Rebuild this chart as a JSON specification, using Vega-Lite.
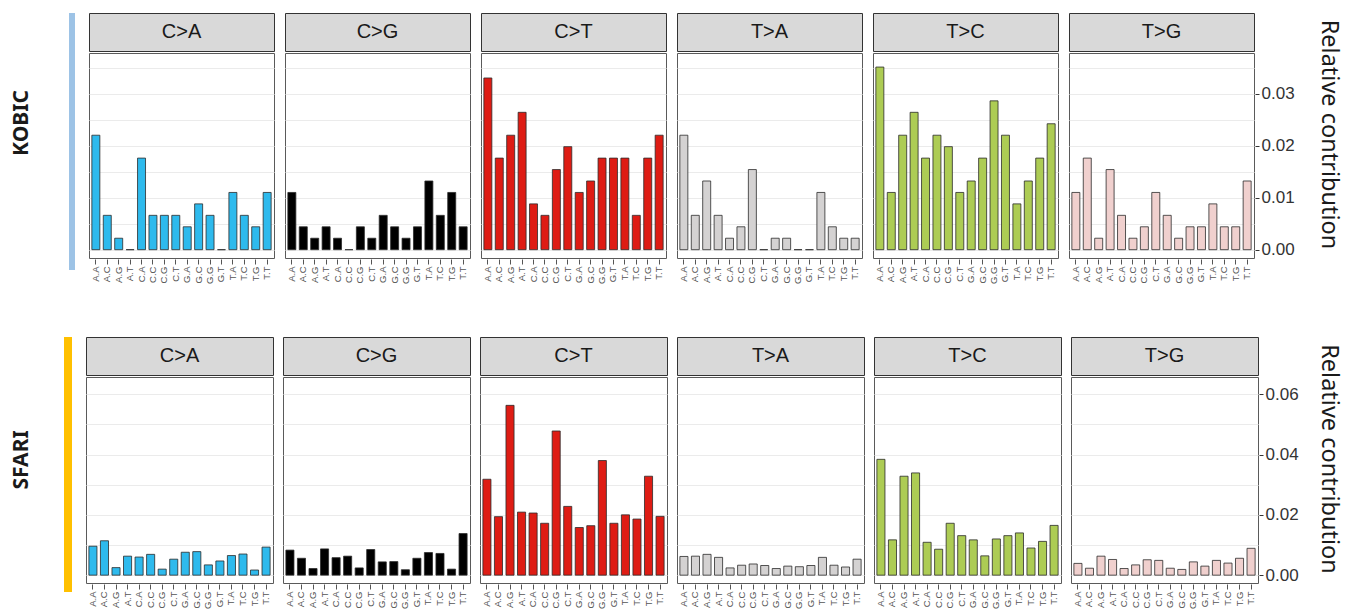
{
"$schema": "https://vega.github.io/schema/vega-lite/v6.json",
"padding": {"left": 0, "top": 12, "right": 0, "bottom": 0},
"background": "white",
"config": {"view": {"stroke": null}, "font": "Liberation Sans"},
"datasets": {
"kobic": [
{"type":"C>A","ctx":"A.A","v":0.022},{"type":"C>A","ctx":"A.C","v":0.0066},{"type":"C>A","ctx":"A.G","v":0.0022},{"type":"C>A","ctx":"A.T","v":0},{"type":"C>A","ctx":"C.A","v":0.0176},{"type":"C>A","ctx":"C.C","v":0.0066},{"type":"C>A","ctx":"C.G","v":0.0066},{"type":"C>A","ctx":"C.T","v":0.0066},{"type":"C>A","ctx":"G.A","v":0.0044},{"type":"C>A","ctx":"G.C","v":0.0088},{"type":"C>A","ctx":"G.G","v":0.0066},{"type":"C>A","ctx":"G.T","v":0},{"type":"C>A","ctx":"T.A","v":0.011},{"type":"C>A","ctx":"T.C","v":0.0066},{"type":"C>A","ctx":"T.G","v":0.0044},{"type":"C>A","ctx":"T.T","v":0.011},
{"type":"C>G","ctx":"A.A","v":0.011},{"type":"C>G","ctx":"A.C","v":0.0044},{"type":"C>G","ctx":"A.G","v":0.0022},{"type":"C>G","ctx":"A.T","v":0.0044},{"type":"C>G","ctx":"C.A","v":0.0022},{"type":"C>G","ctx":"C.C","v":0},{"type":"C>G","ctx":"C.G","v":0.0044},{"type":"C>G","ctx":"C.T","v":0.0022},{"type":"C>G","ctx":"G.A","v":0.0066},{"type":"C>G","ctx":"G.C","v":0.0044},{"type":"C>G","ctx":"G.G","v":0.0022},{"type":"C>G","ctx":"G.T","v":0.0044},{"type":"C>G","ctx":"T.A","v":0.0132},{"type":"C>G","ctx":"T.C","v":0.0066},{"type":"C>G","ctx":"T.G","v":0.011},{"type":"C>G","ctx":"T.T","v":0.0044},
{"type":"C>T","ctx":"A.A","v":0.033},{"type":"C>T","ctx":"A.C","v":0.0176},{"type":"C>T","ctx":"A.G","v":0.022},{"type":"C>T","ctx":"A.T","v":0.0264},{"type":"C>T","ctx":"C.A","v":0.0088},{"type":"C>T","ctx":"C.C","v":0.0066},{"type":"C>T","ctx":"C.G","v":0.0154},{"type":"C>T","ctx":"C.T","v":0.0198},{"type":"C>T","ctx":"G.A","v":0.011},{"type":"C>T","ctx":"G.C","v":0.0132},{"type":"C>T","ctx":"G.G","v":0.0176},{"type":"C>T","ctx":"G.T","v":0.0176},{"type":"C>T","ctx":"T.A","v":0.0176},{"type":"C>T","ctx":"T.C","v":0.0066},{"type":"C>T","ctx":"T.G","v":0.0176},{"type":"C>T","ctx":"T.T","v":0.022},
{"type":"T>A","ctx":"A.A","v":0.022},{"type":"T>A","ctx":"A.C","v":0.0066},{"type":"T>A","ctx":"A.G","v":0.0132},{"type":"T>A","ctx":"A.T","v":0.0066},{"type":"T>A","ctx":"C.A","v":0.0022},{"type":"T>A","ctx":"C.C","v":0.0044},{"type":"T>A","ctx":"C.G","v":0.0154},{"type":"T>A","ctx":"C.T","v":0},{"type":"T>A","ctx":"G.A","v":0.0022},{"type":"T>A","ctx":"G.C","v":0.0022},{"type":"T>A","ctx":"G.G","v":0},{"type":"T>A","ctx":"G.T","v":0},{"type":"T>A","ctx":"T.A","v":0.011},{"type":"T>A","ctx":"T.C","v":0.0044},{"type":"T>A","ctx":"T.G","v":0.0022},{"type":"T>A","ctx":"T.T","v":0.0022},
{"type":"T>C","ctx":"A.A","v":0.0351},{"type":"T>C","ctx":"A.C","v":0.011},{"type":"T>C","ctx":"A.G","v":0.022},{"type":"T>C","ctx":"A.T","v":0.0264},{"type":"T>C","ctx":"C.A","v":0.0176},{"type":"T>C","ctx":"C.C","v":0.022},{"type":"T>C","ctx":"C.G","v":0.0198},{"type":"T>C","ctx":"C.T","v":0.011},{"type":"T>C","ctx":"G.A","v":0.0132},{"type":"T>C","ctx":"G.C","v":0.0176},{"type":"T>C","ctx":"G.G","v":0.0286},{"type":"T>C","ctx":"G.T","v":0.022},{"type":"T>C","ctx":"T.A","v":0.0088},{"type":"T>C","ctx":"T.C","v":0.0132},{"type":"T>C","ctx":"T.G","v":0.0176},{"type":"T>C","ctx":"T.T","v":0.0242},
{"type":"T>G","ctx":"A.A","v":0.011},{"type":"T>G","ctx":"A.C","v":0.0176},{"type":"T>G","ctx":"A.G","v":0.0022},{"type":"T>G","ctx":"A.T","v":0.0154},{"type":"T>G","ctx":"C.A","v":0.0066},{"type":"T>G","ctx":"C.C","v":0.0022},{"type":"T>G","ctx":"C.G","v":0.0044},{"type":"T>G","ctx":"C.T","v":0.011},{"type":"T>G","ctx":"G.A","v":0.0066},{"type":"T>G","ctx":"G.C","v":0.0022},{"type":"T>G","ctx":"G.G","v":0.0044},{"type":"T>G","ctx":"G.T","v":0.0044},{"type":"T>G","ctx":"T.A","v":0.0088},{"type":"T>G","ctx":"T.C","v":0.0044},{"type":"T>G","ctx":"T.G","v":0.0044},{"type":"T>G","ctx":"T.T","v":0.0132}
],
"sfari": [
{"type":"C>A","ctx":"A.A","v":0.0096},{"type":"C>A","ctx":"A.C","v":0.0114},{"type":"C>A","ctx":"A.G","v":0.0025},{"type":"C>A","ctx":"A.T","v":0.0063},{"type":"C>A","ctx":"C.A","v":0.006},{"type":"C>A","ctx":"C.C","v":0.0069},{"type":"C>A","ctx":"C.G","v":0.002},{"type":"C>A","ctx":"C.T","v":0.0053},{"type":"C>A","ctx":"G.A","v":0.0076},{"type":"C>A","ctx":"G.C","v":0.0078},{"type":"C>A","ctx":"G.G","v":0.0034},{"type":"C>A","ctx":"G.T","v":0.0047},{"type":"C>A","ctx":"T.A","v":0.0065},{"type":"C>A","ctx":"T.C","v":0.007},{"type":"C>A","ctx":"T.G","v":0.0017},{"type":"C>A","ctx":"T.T","v":0.0093},
{"type":"C>G","ctx":"A.A","v":0.0083},{"type":"C>G","ctx":"A.C","v":0.0056},{"type":"C>G","ctx":"A.G","v":0.0022},{"type":"C>G","ctx":"A.T","v":0.0087},{"type":"C>G","ctx":"C.A","v":0.0058},{"type":"C>G","ctx":"C.C","v":0.0063},{"type":"C>G","ctx":"C.G","v":0.0024},{"type":"C>G","ctx":"C.T","v":0.0085},{"type":"C>G","ctx":"G.A","v":0.0044},{"type":"C>G","ctx":"G.C","v":0.0045},{"type":"C>G","ctx":"G.G","v":0.0018},{"type":"C>G","ctx":"G.T","v":0.0056},{"type":"C>G","ctx":"T.A","v":0.0075},{"type":"C>G","ctx":"T.C","v":0.0072},{"type":"C>G","ctx":"T.G","v":0.002},{"type":"C>G","ctx":"T.T","v":0.0138},
{"type":"C>T","ctx":"A.A","v":0.0318},{"type":"C>T","ctx":"A.C","v":0.0194},{"type":"C>T","ctx":"A.G","v":0.0563},{"type":"C>T","ctx":"A.T","v":0.0209},{"type":"C>T","ctx":"C.A","v":0.0206},{"type":"C>T","ctx":"C.C","v":0.0172},{"type":"C>T","ctx":"C.G","v":0.0478},{"type":"C>T","ctx":"C.T","v":0.0228},{"type":"C>T","ctx":"G.A","v":0.0158},{"type":"C>T","ctx":"G.C","v":0.0164},{"type":"C>T","ctx":"G.G","v":0.038},{"type":"C>T","ctx":"G.T","v":0.0172},{"type":"C>T","ctx":"T.A","v":0.02},{"type":"C>T","ctx":"T.C","v":0.0186},{"type":"C>T","ctx":"T.G","v":0.0328},{"type":"C>T","ctx":"T.T","v":0.0195},
{"type":"T>A","ctx":"A.A","v":0.0062},{"type":"T>A","ctx":"A.C","v":0.0063},{"type":"T>A","ctx":"A.G","v":0.0069},{"type":"T>A","ctx":"A.T","v":0.0059},{"type":"T>A","ctx":"C.A","v":0.0024},{"type":"T>A","ctx":"C.C","v":0.0033},{"type":"T>A","ctx":"C.G","v":0.0037},{"type":"T>A","ctx":"C.T","v":0.0032},{"type":"T>A","ctx":"G.A","v":0.0022},{"type":"T>A","ctx":"G.C","v":0.003},{"type":"T>A","ctx":"G.G","v":0.0028},{"type":"T>A","ctx":"G.T","v":0.0032},{"type":"T>A","ctx":"T.A","v":0.0059},{"type":"T>A","ctx":"T.C","v":0.0033},{"type":"T>A","ctx":"T.G","v":0.0027},{"type":"T>A","ctx":"T.T","v":0.0053},
{"type":"T>C","ctx":"A.A","v":0.0384},{"type":"T>C","ctx":"A.C","v":0.0117},{"type":"T>C","ctx":"A.G","v":0.0328},{"type":"T>C","ctx":"A.T","v":0.0339},{"type":"T>C","ctx":"C.A","v":0.0109},{"type":"T>C","ctx":"C.C","v":0.0086},{"type":"T>C","ctx":"C.G","v":0.0172},{"type":"T>C","ctx":"C.T","v":0.0131},{"type":"T>C","ctx":"G.A","v":0.0117},{"type":"T>C","ctx":"G.C","v":0.0064},{"type":"T>C","ctx":"G.G","v":0.012},{"type":"T>C","ctx":"G.T","v":0.0131},{"type":"T>C","ctx":"T.A","v":0.014},{"type":"T>C","ctx":"T.C","v":0.009},{"type":"T>C","ctx":"T.G","v":0.0112},{"type":"T>C","ctx":"T.T","v":0.0165},
{"type":"T>G","ctx":"A.A","v":0.0039},{"type":"T>G","ctx":"A.C","v":0.0023},{"type":"T>G","ctx":"A.G","v":0.0063},{"type":"T>G","ctx":"A.T","v":0.0052},{"type":"T>G","ctx":"C.A","v":0.0022},{"type":"T>G","ctx":"C.C","v":0.0034},{"type":"T>G","ctx":"C.G","v":0.0051},{"type":"T>G","ctx":"C.T","v":0.0049},{"type":"T>G","ctx":"G.A","v":0.0023},{"type":"T>G","ctx":"G.C","v":0.0019},{"type":"T>G","ctx":"G.G","v":0.0044},{"type":"T>G","ctx":"G.T","v":0.003},{"type":"T>G","ctx":"T.A","v":0.0049},{"type":"T>G","ctx":"T.C","v":0.004},{"type":"T>G","ctx":"T.G","v":0.0056},{"type":"T>G","ctx":"T.T","v":0.0089}
]
},
"spacing": 52,
"vconcat": [
{
"spacing": 13,
"hconcat": [
 {"spacing": 25, "hconcat": [
  {"data": {"values": [{"label": "KOBIC"}]}, "width": 44, "height": 220,
   "mark": {"type": "text", "angle": 270, "fontSize": 21, "fontWeight": "bold", "font": "Noto Sans", "color": "#1a1a1a", "baseline": "middle", "align": "center"},
   "encoding": {"text": {"field": "label"}}},
  {"data": {"values": [{"label": "KOBIC"}]}, "width": 6, "height": 257,
   "view": {"fill": "#9DC3E6", "stroke": null},
   "mark": {"type": "text", "opacity": 0, "fontSize": 1},
   "encoding": {"text": {"field": "label"}}}
 ]},
 {"spacing": 0, "vconcat": [
  {"data": {"name": "kobic"},
   "transform": [{"aggregate": [{"op": "count", "as": "n"}], "groupby": ["type"]}],
   "facet": {"column": {"field": "type", "header": null}},
   "spacing": 9,
   "spec": {"width": 185, "height": 38, "view": {"fill": "#D9D9D9", "stroke": "#333333"},
    "mark": {"type": "text", "fontSize": 20, "color": "#1a1a1a", "baseline": "middle"},
    "encoding": {"text": {"field": "type"}}}},
  {"data": {"name": "kobic"},
   "facet": {"column": {"field": "type", "header": null}},
   "spacing": 9,
   "spec": {"width": 185, "height": 205, "view": {"stroke": "#5a5a5a"},
    "mark": {"type": "bar", "stroke": "#2b2b2b", "strokeWidth": 0.8},
    "encoding": {
     "x": {"field": "ctx", "type": "nominal", "scale": {"paddingInner": 0.3, "paddingOuter": 0.25},
       "axis": {"title": null, "labelAngle": -90, "labelFontSize": 9.5, "labelColor": "#555555", "tickColor": "#555555", "tickSize": 5, "domain": false, "grid": false, "labelPadding": 2}},
     "y": {"field": "v", "type": "quantitative", "scale": {"domain": [-0.0016, 0.0378], "nice": false},
       "axis": {"orient": "right", "values": [0, 0.005, 0.01, 0.015, 0.02, 0.025, 0.03, 0.035],
        "labelExpr": "round(datum.value*1000) % 10 == 0 ? format(datum.value, '.2f') : ''",
        "tickOpacity": {"condition": {"test": "round(datum.value*1000) % 10 == 0", "value": 1}, "value": 0},
        "labelFontSize": 17, "labelColor": "#333333", "tickColor": "#333333", "tickSize": 4, "labelPadding": 2, "domain": false,
        "gridColor": "#EBEBEB", "gridWidth": 1.2, "title": null}},
     "color": {"field": "type", "type": "nominal", "legend": null,
       "scale": {"domain": ["C>A", "C>G", "C>T", "T>A", "T>C", "T>G"], "range": ["#2EBAED", "#000000", "#DE1C14", "#D4D2D2", "#ADCC54", "#F0D0CE"]}}
    }}}
 ]},
 {"data": {"values": [{"label": "Relative contribution"}]}, "width": 42, "height": 243,
  "mark": {"type": "text", "angle": 90, "fontSize": 23.5, "font": "Noto Sans", "color": "#1a1a1a", "baseline": "middle", "align": "center"},
  "encoding": {"text": {"field": "label"}}}
]
},
{
"spacing": 13,
"hconcat": [
 {"spacing": 20, "hconcat": [
  {"data": {"values": [{"label": "SFARI"}]}, "width": 44, "height": 246,
   "mark": {"type": "text", "angle": 270, "fontSize": 21, "fontWeight": "bold", "font": "Noto Sans", "color": "#1a1a1a", "baseline": "middle", "align": "center"},
   "encoding": {"text": {"field": "label"}}},
  {"data": {"values": [{"label": "SFARI"}]}, "width": 8, "height": 255,
   "view": {"fill": "#FFC000", "stroke": null},
   "mark": {"type": "text", "opacity": 0, "fontSize": 1},
   "encoding": {"text": {"field": "label"}}}
 ]},
 {"spacing": 0, "vconcat": [
  {"data": {"name": "sfari"},
   "transform": [{"aggregate": [{"op": "count", "as": "n"}], "groupby": ["type"]}],
   "facet": {"column": {"field": "type", "header": null}},
   "spacing": 8,
   "spec": {"width": 187, "height": 38, "view": {"fill": "#D9D9D9", "stroke": "#333333"},
    "mark": {"type": "text", "fontSize": 20, "color": "#1a1a1a", "baseline": "middle"},
    "encoding": {"text": {"field": "type"}}}},
  {"data": {"name": "sfari"},
   "facet": {"column": {"field": "type", "header": null}},
   "spacing": 8,
   "spec": {"width": 187, "height": 206, "view": {"stroke": "#5a5a5a"},
    "mark": {"type": "bar", "stroke": "#2b2b2b", "strokeWidth": 0.8},
    "encoding": {
     "x": {"field": "ctx", "type": "nominal", "scale": {"paddingInner": 0.3, "paddingOuter": 0.25},
       "axis": {"title": null, "labelAngle": -90, "labelFontSize": 9.5, "labelColor": "#555555", "tickColor": "#555555", "tickSize": 5, "domain": false, "grid": false, "labelPadding": 2}},
     "y": {"field": "v", "type": "quantitative", "scale": {"domain": [-0.0026, 0.0657], "nice": false},
       "axis": {"orient": "right", "values": [0, 0.01, 0.02, 0.03, 0.04, 0.05, 0.06],
        "labelExpr": "round(datum.value*100) % 2 == 0 ? format(datum.value, '.2f') : ''",
        "tickOpacity": {"condition": {"test": "round(datum.value*100) % 2 == 0", "value": 1}, "value": 0},
        "labelFontSize": 17, "labelColor": "#333333", "tickColor": "#333333", "tickSize": 4, "labelPadding": 2, "domain": false,
        "gridColor": "#EBEBEB", "gridWidth": 1.2, "title": null}},
     "color": {"field": "type", "type": "nominal", "legend": null,
       "scale": {"domain": ["C>A", "C>G", "C>T", "T>A", "T>C", "T>G"], "range": ["#2EBAED", "#000000", "#DE1C14", "#D4D2D2", "#ADCC54", "#F0D0CE"]}}
    }}}
 ]},
 {"data": {"values": [{"label": "Relative contribution"}]}, "width": 34, "height": 244,
  "mark": {"type": "text", "angle": 90, "fontSize": 23.5, "font": "Noto Sans", "color": "#1a1a1a", "baseline": "middle", "align": "center"},
  "encoding": {"text": {"field": "label"}}}
]
}
]
}
